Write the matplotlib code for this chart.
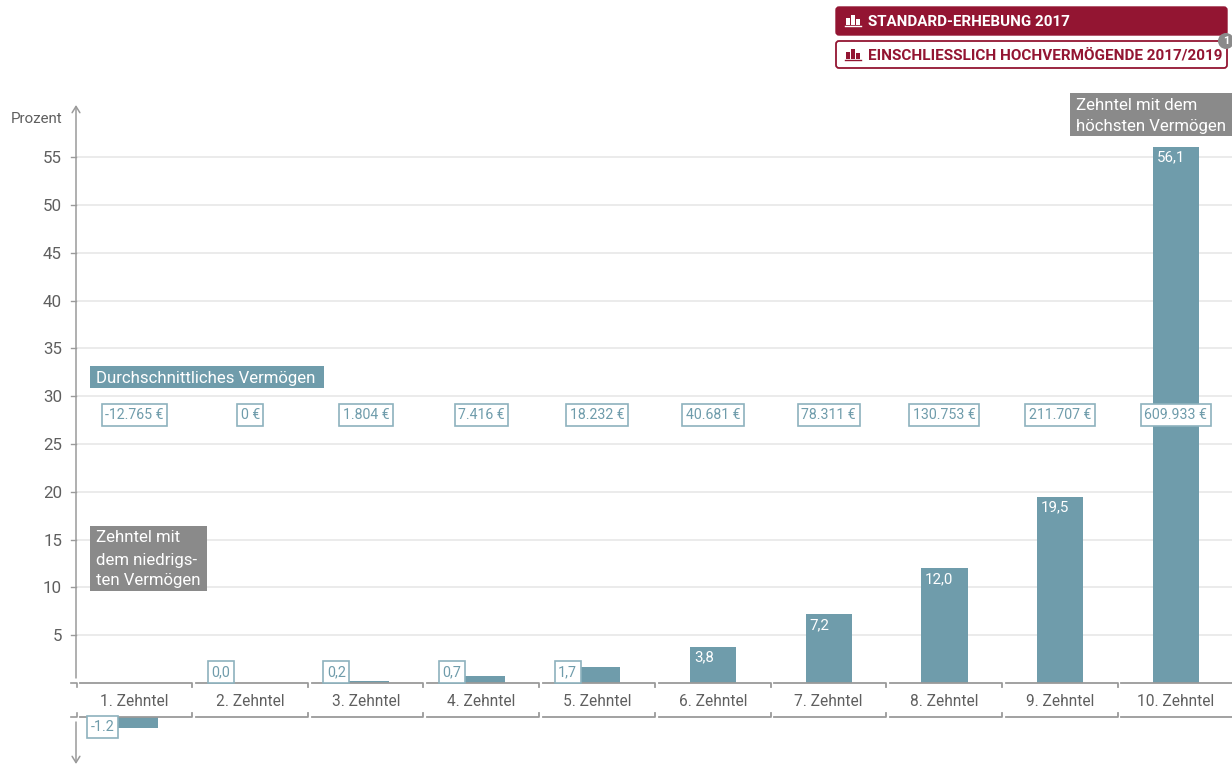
import matplotlib
matplotlib.use("Agg")
import matplotlib.pyplot as plt
from matplotlib.patches import FancyBboxPatch, Rectangle, Circle

plt.rcParams['font.family'] = ['Roboto', 'DejaVu Sans']

# data
categories = ['1. Zehntel', '2. Zehntel', '3. Zehntel', '4. Zehntel', '5. Zehntel',
              '6. Zehntel', '7. Zehntel', '8. Zehntel', '9. Zehntel', '10. Zehntel']
shares = [-1.2, 0.0, 0.2, 0.7, 1.7, 3.8, 7.2, 12.0, 19.5, 56.1]
share_labels = ['-1.2', '0,0', '0,2', '0,7', '1,7', '3,8', '7,2', '12,0', '19,5', '56,1']
wealth_labels = ['-12.765 €', '0 €', '1.804 €', '7.416 €', '18.232 €',
                 '40.681 €', '78.311 €', '130.753 €', '211.707 €', '609.933 €']
yticks = [5, 10, 15, 20, 25, 30, 35, 40, 45, 50, 55]

W, H = 1232, 764
TEAL = '#6f9cab'
RED = '#931532'
GREY = '#8a8a8a'
LINE = '#9a9a9a'
GRID = '#e6e6e6'
TEXT = '#5f5f5f'
FS = 11.2
TAG_FS = 12.1


def pixelAxes(fig, left, top, right, bottom):
    return fig.add_axes([left / W, 1 - bottom / H, (right - left) / W, (bottom - top) / H])


fig = plt.figure(figsize=(W / 100, H / 100), dpi=100)

# 115.7 px per category, 9.56 px per percent, axis broken around the label strip
xlim = (-0.506, 9.486)
top = pixelAxes(fig, 76, 107, 1232, 683)
low = pixelAxes(fig, 76, 717, 1232, 764)
top.set_xlim(xlim)
low.set_xlim(xlim)
top.set_ylim(0, (683 - 107) / 9.56)
low.set_ylim(-(764 - 717) / 9.56, 0)

for ax in (top, low):
    ax.patch.set_alpha(0)
    for s in ax.spines.values():
        s.set_visible(False)
    ax.set_yticks([])
    ax.tick_params(length=0)

top.set_yticks(yticks)
top.set_yticklabels([str(v) for v in yticks], fontsize=12.2, color=TEXT)
top.tick_params(axis='y', pad=10, length=0)
top.grid(axis='y', color=GRID, lw=1.1)
top.set_axisbelow(True)
top.set_xticks(range(len(categories)))
top.set_xticklabels(categories, fontsize=FS, color=TEXT)
top.tick_params(axis='x', pad=8, length=0)
low.set_xticks([])

# bars
xs = list(range(len(shares)))
top.bar(xs, [max(v, 0) for v in shares], width=0.4, color=TEAL, zorder=2)
low.bar(xs, [min(v, 0) for v in shares], width=0.4, color=TEAL, zorder=2)

# value labels, inside the bar if it is tall enough, otherwise boxed at its left edge
boxed = dict(boxstyle='square,pad=0.25', fc='white', ec='#8db2be', lw=1.2)
for x, v, lab in zip(xs, shares, share_labels):
    if v >= 3:
        top.annotate(lab, (x - 0.2, v), xytext=(4, -11), textcoords='offset pixels',
                     ha='left', va='center', color='white', fontsize=10.8, zorder=4)
    elif v >= 0:
        top.annotate(lab, (x - 0.2, 0), xytext=(3, 11), textcoords='offset pixels',
                     ha='right', va='center', color=TEAL, fontsize=10.4, bbox=boxed, zorder=4)
    else:
        low.annotate(lab, (x - 0.2, 0), xytext=(3, -10), textcoords='offset pixels',
                     ha='right', va='center', color=TEAL, fontsize=10.4, bbox=boxed, zorder=4)

# average wealth row
for x, lab in zip(xs, wealth_labels):
    top.annotate(lab, (x, 0), xytext=(0, 268), textcoords='offset pixels',
                 ha='center', va='center', color=TEAL, fontsize=10.2, bbox=boxed, zorder=5)

# brackets of the category strip
tick_h = 4 / 9.56
for x in xs:
    x0, x1 = x - 0.47, x + 0.497
    top.plot([x0, x1, x1], [0, 0, -tick_h], color=LINE, lw=1.3, clip_on=False, zorder=3)
    low.plot([x0, x1, x1], [0, 0, tick_h], color=LINE, lw=1.3, clip_on=False, zorder=3)

# chrome drawn in picture pixels
over = fig.add_axes([0, 0, 1, 1])
over.set_xlim(0, W)
over.set_ylim(H, 0)
over.axis('off')
over.patch.set_alpha(0)

# broken y axis with arrows
arrow = dict(arrowstyle='->,head_length=0.45,head_width=0.28', color=LINE, lw=1.1, shrinkA=0, shrinkB=0)
over.annotate('', xy=(76, 105), xytext=(76, 678), arrowprops=arrow)
over.annotate('', xy=(76, 764), xytext=(76, 722), arrowprops=arrow)
over.plot([71, 77, 77], [683, 683, 687], color=LINE, lw=1.2)
over.plot([71, 77, 77], [717, 717, 713], color=LINE, lw=1.2)
for v in yticks:
    y = 683 - v * 9.56
    over.plot([71, 76], [y, y], color=LINE, lw=1.0)
over.text(62, 119, 'Prozent', ha='right', va='center', fontsize=10.9, color=TEXT)

# buttons
over.add_patch(FancyBboxPatch((836, 7), 391, 28, boxstyle='round,pad=0,rounding_size=3', fc=RED, ec=RED, lw=1))
over.add_patch(FancyBboxPatch((836, 41), 391, 27, boxstyle='round,pad=0,rounding_size=3', fc='white', ec=RED, lw=1.3))
over.text(868, 21.5, 'STANDARD-ERHEBUNG 2017', color='white', fontsize=10.9, fontweight='bold', va='center')
over.text(868, 55.5, 'EINSCHLIESSLICH HOCHVERMÖGENDE 2017/2019', color=RED, fontsize=11.0, fontweight='bold', va='center')
for yb, c in ((25, 'white'), (59, RED)):
    for bx, bh in ((846, 7), (851, 10), (856, 6)):
        over.add_patch(Rectangle((bx, yb - bh), 4, bh, fc=c, ec='none'))
    over.plot([845, 861], [yb + 1, yb + 1], color=c, lw=1)
over.add_patch(Circle((1226, 41), 8, fc=GREY, ec='none', zorder=6))
over.text(1226, 41, '1', color='white', fontsize=8, fontweight='bold', ha='center', va='center', zorder=7)

# annotation tags
over.add_patch(Rectangle((90, 366), 234, 22, fc=TEAL, ec='none'))
over.text(96, 378, 'Durchschnittliches Vermögen', color='white', fontsize=TAG_FS, va='center')
over.add_patch(Rectangle((1070, 93), 162, 43, fc=GREY, ec='none'))
over.text(1076, 105, 'Zehntel mit dem', color='white', fontsize=TAG_FS, va='center')
over.text(1076, 126, 'höchsten Vermögen', color='white', fontsize=TAG_FS, va='center')
over.add_patch(Rectangle((90, 526), 117, 65, fc=GREY, ec='none'))
over.text(96, 538, 'Zehntel mit', color='white', fontsize=TAG_FS, va='center')
over.text(96, 560, 'dem niedrigs-', color='white', fontsize=TAG_FS, va='center')
over.text(96, 581, 'ten Vermögen', color='white', fontsize=TAG_FS, va='center')

fig.savefig('out.png', dpi=100)
plt.close(fig)
